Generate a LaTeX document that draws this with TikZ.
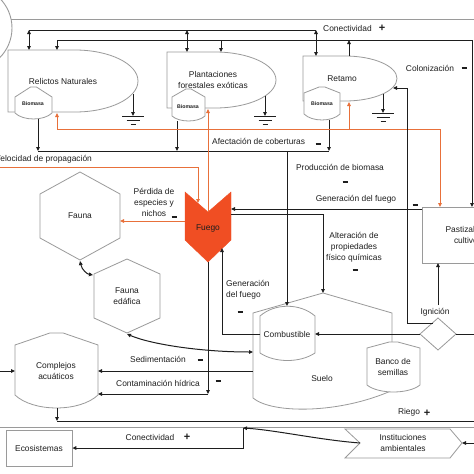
\documentclass[tikz,border=0pt]{standalone}
\usepackage{fontspec}
\setmainfont{Liberation Sans}
\usetikzlibrary{arrows.meta,calc}
\definecolor{txt}{HTML}{1E1E1E}
\definecolor{ln}{HTML}{1E1E1E}
\definecolor{shp}{HTML}{9A9A9A}
\definecolor{org}{HTML}{E8703A}
\definecolor{fire}{HTML}{F04E23}
\tikzset{
 gshape/.style={draw=shp, line width=0.8pt, fill=white},
 gline/.style={draw=shp, line width=0.9pt},
 bl/.style={draw=ln, line width=1pt},
 arr/.style={bl, -{Triangle[length=4pt,width=3.6pt]}},
 darr/.style={bl, {Triangle[length=4pt,width=3.6pt]}-{Triangle[length=4pt,width=3.6pt]}},
 ol/.style={draw=org, line width=0.9pt},
 oarr/.style={ol, -{Triangle[length=4pt,width=3.6pt]}},
 lbl/.style={font=\fontsize{8.4}{11}\selectfont, text=txt, align=center, inner sep=0pt},
 tiny/.style={font=\bfseries\fontsize{5.2}{6}\selectfont, text=txt, inner sep=0pt},
 sgn/.style={font=\bfseries\fontsize{11}{11}\selectfont, text=txt, inner sep=0pt},
 ground/.pic={\draw[bl] (-11,0)--(11,0) (-6.5,4)--(6.5,4) (-2.5,8)--(2.5,8);}
}
\newcommand{\mn}{\rule{5pt}{1.6pt}}
\newcommand{\drawtank}[6]{%
 \draw[gshape] (#1,#5) -- (#1,#4) -- ({#1+0.42*(#2-#1)},#3) -- ({#1+0.58*(#2-#1)},#3) -- (#2,#4) -- (#2,#5) .. controls ({#2-0.22*(#2-#1)},{#5+1.33*(#6-#5)}) and ({#1+0.22*(#2-#1)},{#5+1.33*(#6-#5)}) .. (#1,#5) -- cycle;}

\begin{document}
\begin{tikzpicture}[x=1pt,y=-1pt]
\useasboundingbox (0,0) rectangle (474,474);
\fill[white] (0,0) rectangle (474,474);
\begin{scope}
\clip (0,0) rectangle (474,474);

% ---------- shapes ----------
\draw[gline] (-30,28) circle[radius=42];
% Relictos
\draw[gshape] (75,112) -- (8,112) -- (8,50) -- (75,50) arc[start angle=-90,end angle=90,x radius=63,y radius=31] -- cycle;
\node[lbl] (rel) at (63,81) {Relictos Naturales};
\drawtank{15}{52}{87}{97}{113}{119}
\node[tiny] (bio1) at (33,104) {Biomasa};
% Plantaciones
\draw[gshape] (215,108) -- (167,108) -- (167,52) -- (215,52) arc[start angle=-90,end angle=90,x radius=61,y radius=28] -- cycle;
\node[lbl] (plant) at (213,80) {Plantaciones\\forestales exóticas};
\drawtank{172}{205}{89}{97}{116}{121}
\node[tiny] (bio2) at (188,107) {Biomasa};
% Retamo
\draw[gshape] (345,101) -- (303,101) -- (303,56) -- (345,56) arc[start angle=-90,end angle=90,x radius=52,y radius=22.5] -- cycle;
\node[lbl] (ret) at (342,79) {Retamo};
\drawtank{304}{340}{87}{93}{114}{120}
\node[tiny] (bio3) at (322,104) {Biomasa};
% grounds
\coordinate (relG) at (133,94);
\coordinate (plG) at (265,96);
\coordinate (retG) at (383,94);
\draw[arr] (relG) -- ++(0,22);
\draw[arr] (plG) -- ++(0,20);
\draw[arr] (retG) -- ++(0,19);
\pic at (133,116) {ground};
\pic at (265,116) {ground};
\pic at (383,113) {ground};

% Fauna
\draw[gshape] (80,172) -- (120,194) -- (120,238) -- (80,260) -- (40,238) -- (40,194) -- cycle;
\node[lbl] (fauna) at (80,216) {Fauna};
\draw[gshape] (127,259) -- (160,274) -- (160,318) -- (127,333) -- (94,318) -- (94,274) -- cycle;
\node[lbl] (fed) at (127,296) {Fauna\\edáfica};
% Fuego
\draw[fill=fire, draw=fire] (185,192) -- (208,212) -- (231,192) -- (231,240) -- (208,262) -- (185,240) -- cycle;
\node[lbl] (fuego) at (208,228) {Fuego};
% Complejos
\drawtank{15}{98}{333}{345}{395}{408}
\node[lbl] (comp) at (56,371) {Complejos\\acuáticos};
% Suelo
\draw[gshape] (392,342) -- (392,313) -- (323,293) -- (253,313) -- (253,398) .. controls (272,414) and (340,414) .. (393,390);
\node[lbl] (suelo) at (322,378) {Suelo};
% Combustible
\draw[gshape] (260,353) -- (260,316) .. controls (275,303) and (300,303) .. (315,316) -- (315,353) .. controls (300,363) and (275,363) .. (260,353) -- cycle;
\node[lbl] (comb) at (287,334) {Combustible};
% Banco
\drawtank{367}{420}{342}{348}{385}{392}
\node[lbl] (banco) at (393,367) {Banco de\\semillas};
% Pastizales
\node[draw=shp, line width=0.8pt, fill=white, minimum width=92pt, minimum height=56pt, lbl] (past) at (468,235) {Pastizales y\\cultivos};
% Ignicion diamond
\draw[gshape] (438,318) -- (456,334) -- (438,350) -- (420,334) -- cycle;
\node[lbl] (ign) at (435,312) {Ignición};
% Ecosistemas
\node[draw=shp, line width=0.8pt, minimum width=66pt, minimum height=36pt, lbl] (eco) at (39,448) {Ecosistemas};
% Instituciones
\draw[gshape] (345,429) -- (450,429) -- (462,443) -- (450,458) -- (345,458) -- (360,443) -- cycle;
\node[lbl] (inst) at (403,443) {Instituciones\\ambientales};

% ---------- coordinates ----------
\coordinate (g1) at (11,19);   \coordinate (g1r) at (474,19);
\coordinate (tl1) at (29,30);  \coordinate (tl1r) at (316,30);
\coordinate (relTop1) at (29,50); \coordinate (plTop1) at (187,52); \coordinate (retTop1) at (316,56);
\coordinate (tl2) at (57,40);  \coordinate (tl2r) at (472,40);
\coordinate (relTop2) at (57,50); \coordinate (plTop2) at (221,52); \coordinate (retTop2) at (349,56);
\coordinate (pastTop2) at (472,207);
\coordinate (bRel) at (38,119); \coordinate (bPl) at (177,121); \coordinate (bRet) at (329,120);
\coordinate (pL) at (38,151); \coordinate (pR) at (329,151);
\coordinate (combTop) at (287,306);
\coordinate (fNotch) at (208,212); \coordinate (plBot) at (208,109);
\coordinate (oL) at (57,129); \coordinate (oR) at (440,129);
\coordinate (relBot) at (57,113); \coordinate (retBot) at (349,102); \coordinate (pastTopO) at (440,207);
\coordinate (vL) at (0,167); \coordinate (fuegoLT) at (198,203);
\coordinate (fuegoL) at (185,221); \coordinate (faunaR) at (120,221);
\coordinate (pastL1) at (422,209); \coordinate (fuegoR1) at (231,209);
\coordinate (fuegoR2) at (231,214); \coordinate (sueloTop) at (323,293);
\coordinate (combL) at (260,334); \coordinate (fuegoRB) at (222,248);
\coordinate (fuegoB) at (208,262); \coordinate (cont) at (208,394); \coordinate (compR2) at (98,394);
\coordinate (sueloL) at (253,371); \coordinate (compR1) at (98,371);
\coordinate (fedB) at (127,334); \coordinate (sueloL2) at (253,352);
\coordinate (faunaB) at (80,261); \coordinate (fedTL) at (93,275);
\coordinate (compB) at (57,408); \coordinate (riegoL) at (57,421); \coordinate (riegoR) at (474,421);
\coordinate (leftIn) at (0,371); \coordinate (compL) at (15,371);
\coordinate (g2L) at (0,427); \coordinate (g2R) at (474,427);
\coordinate (instL) at (360,443); \coordinate (J) at (243,428);
\coordinate (rightIn) at (474,443); \coordinate (instR) at (462,443);
\coordinate (ignUp) at (438,305); \coordinate (pastB) at (438,263);
\coordinate (dUL) at (433,323); \coordinate (igL) at (407,323); \coordinate (retR) at (393,88);
\coordinate (dL) at (420,334); \coordinate (combR) at (315,334);
\coordinate (dR) at (456,334); \coordinate (rightD) at (474,334);

% ---------- connectors ----------
\draw[gline] (g1) -- (g1r);
\draw[bl] (tl1) -- (tl1r);
\draw[darr] (tl1) -- (relTop1);
\draw[darr] (tl1 -| plTop1) -- (plTop1);
\draw[darr] (tl1r) -- (retTop1);
\draw[bl] (tl2) -- (tl2r);
\draw[arr] (tl2) -- (relTop2);
\draw[arr] (tl2 -| plTop2) -- (plTop2);
\draw[arr] (retTop2) -- (retTop2 |- tl2);
\draw[arr] (tl2r) -- (pastTop2);

\draw[arr] (bRel) -- (pL);
\draw[arr] (bPl) -- (bPl |- pL);
\draw[arr] (bRet) -- (pR);
\draw[bl] (pL) -- (pR);
\draw[arr] (pL -| combTop) -- (combTop);

\draw[oarr] (fNotch) -- (plBot);
\draw[ol] (oL) -- (oR);
\draw[oarr] (oL) -- (relBot);
\draw[oarr] (oL -| retBot) -- (retBot);
\draw[oarr] (oR) -- (pastTopO);
\draw[oarr] (vL) -| (fuegoLT);
\draw[oarr] (fuegoL) -- (faunaR);

\draw[arr] (pastL1) -- (fuegoR1);
\draw[arr] (fuegoR2) -| (sueloTop);
\draw[arr] (combL) -| (fuegoRB);
\draw[arr] (fuegoB) -- (cont);
\draw[arr] (cont) -- (compR2);
\draw[arr] (sueloL) -- (compR1);
\draw[darr] (fedB) .. controls (150,344) and (200,352) .. (sueloL2);
\draw[darr] (faunaB) .. controls (82,270) and (87,274) .. (fedTL);
\draw[arr] (compB) -- (riegoL);
\draw[bl] (riegoL) -- (riegoR);
\draw[arr] (leftIn) -- (compL);
\draw[gline] (g2L) -- (g2R);
\draw[arr] (instL) .. controls (320,440) and (275,430) .. (J);
\draw[arr] (J) |- (eco.east);
\draw[arr] (rightIn) -- (instR);
\draw[arr] (ignUp) -- (pastB);
\draw[arr] (dUL) -- (igL) |- (retR);
\draw[arr] (dL) -- (combR);
\draw[bl] (dR) -- (rightD);

% ---------- labels ----------
\node[lbl, anchor=west] (lcon1) at (323,28) {Conectividad};
\node[sgn] (pcon1) at (382,28) {+};
\node[lbl] (lcol) at (430,68) {Colonización};
\node[sgn] (mcol) at (464,68) {\mn};
\node[lbl, anchor=west] (lafe) at (212,141) {Afectación de coberturas};
\node[sgn] (mafe) at (318,144) {\mn};
\node[lbl, anchor=west] (lvel) at (-5,159) {Velocidad de propagación};
\node[lbl] (lprod) at (340,167) {Producción de biomasa};
\node[sgn] (mprod) at (345,182) {\mn};
\node[lbl] (lgen1) at (356,199) {Generación del fuego};
\node[sgn] (mgen1) at (415,205) {\mn};
\node[lbl] (lper) at (154,202) {Pérdida de\\especies y\\nichos};
\node[sgn] (mper) at (174,217) {\mn};
\node[lbl] (lalt) at (354,247) {Alteración de\\propiedades\\físico químicas};
\node[sgn] (malt) at (355,270) {\mn};
\node[lbl, anchor=west, align=left] (lgen2) at (226,290) {Generación\\del fuego};
\node[sgn] (mgen2) at (240,312) {\mn};
\node[lbl] (lsed) at (158,359) {Sedimentación};
\node[sgn] (msed) at (200,360) {\mn};
\node[lbl] (lcont) at (158,383) {Contaminación hídrica};
\node[sgn] (mcont) at (218,381) {\mn};
\node[lbl] (lcon2) at (150,437) {Conectividad};
\node[sgn] (pcon2) at (187,437) {+};
\node[lbl] (lrie) at (409,412) {Riego};
\node[sgn] (prie) at (427,413) {+};
\end{scope}
\end{tikzpicture}
\end{document}
